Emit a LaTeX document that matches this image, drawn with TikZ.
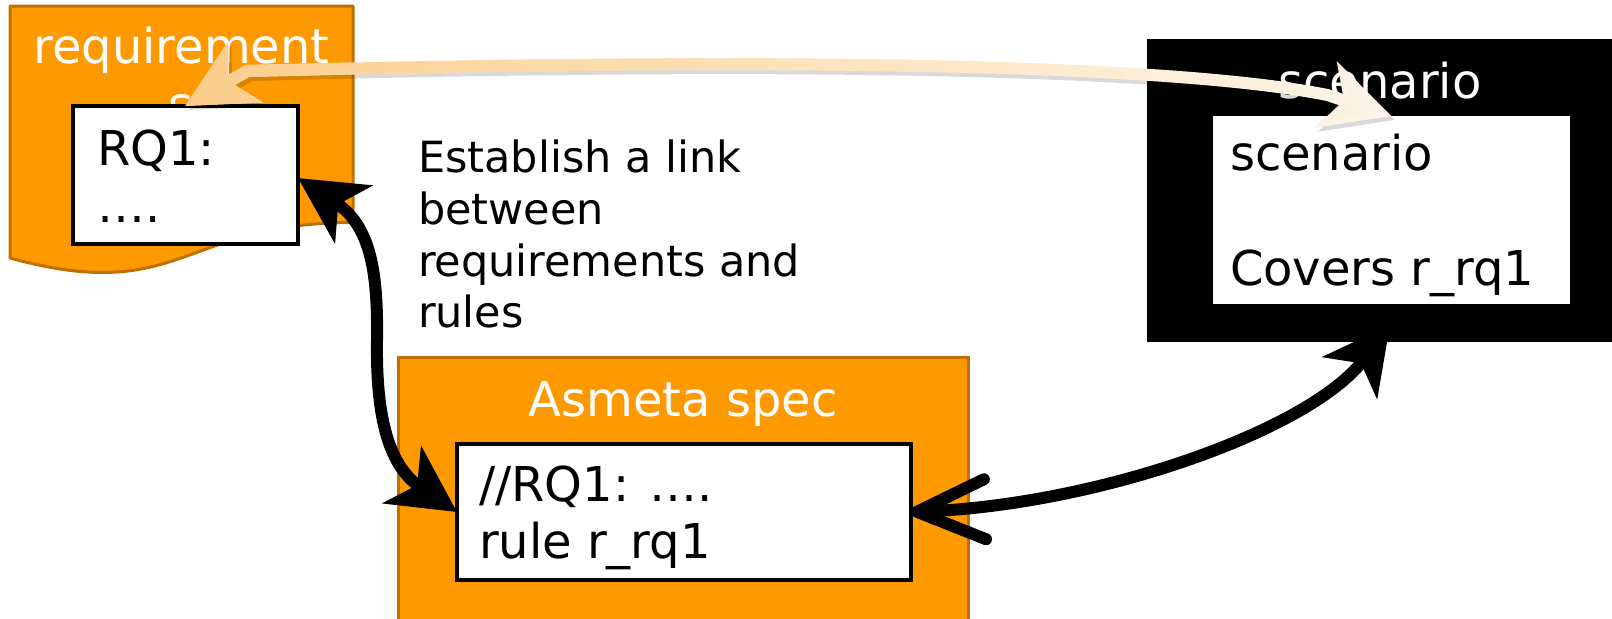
\documentclass[tikz,border=0pt]{standalone}
\usepackage{fontspec}
\setmainfont{DejaVu Sans}
\usetikzlibrary{arrows.meta,fadings,calc}
\definecolor{orfill}{RGB}{255,153,0}
\definecolor{orline}{RGB}{192,112,0}
\definecolor{peachL}{RGB}{252,206,140}
\definecolor{peachR}{RGB}{254,246,234}
\tikzfading[name=litefade, left color=transparent!0, middle color=transparent!25, right color=transparent!100]
\begin{document}
\begin{tikzpicture}[x=0.5pt,y=-0.5pt,
  every node/.style={inner sep=0pt,outer sep=0pt},
  bigtxt/.style={font=\fontsize{24}{28}\selectfont},
  midtxt/.style={font=\fontsize{21.5}{26}\selectfont},
  whitebox/.style={draw=black,fill=white,line width=2pt,rectangle},
  orangebox/.style={draw=orline,fill=orfill,line width=1.5pt,rectangle},
  blackbox/.style={fill=black,rectangle},
  innerbox/.style={fill=white,rectangle},
  blk/.style={draw=black,line width=6pt,
    preaction={draw=black,opacity=0.18,transform canvas={shift={(1.5pt,-2pt)}}}},
  lite/.style={line width=6pt,line join=round},
  bighead/.tip={Stealth[length=33pt,width=34pt,inset=9pt]},
  barbhead/.tip={Straight Barb[length=34pt,width=30pt,round]},
  litehead/.tip={Stealth[length=34pt,width=34pt,inset=9pt]},
]
\useasboundingbox (0,0) rectangle (1612,618);

% requirements document shape
\draw[draw=orline,fill=orfill,line width=1.5pt,line join=round]
  (10,6) -- (353,6) -- (353,222.5) .. controls (181.5,222.5) and (181.5,305) .. (10,258) -- cycle;
\node[bigtxt,text=white,anchor=base] (reqt1) at (181.5,63) {requirement};
\node[bigtxt,text=white,anchor=base] (reqt2) at (181.5,121) {s};
\node[whitebox,minimum width=112.5pt,minimum height=69pt] (rq) at (185.5,175) {};
\node[bigtxt,anchor=base west] (rqa) at (97,165) {RQ1:};
\node[bigtxt,anchor=base west] (rqb) at (97,222) {….};

% link text
\node[midtxt,anchor=base west] (lk1) at (418,172) {Establish a link};
\node[midtxt,anchor=base west] (lk2) at (418,224) {between};
\node[midtxt,anchor=base west] (lk3) at (418,276) {requirements and};
\node[midtxt,anchor=base west] (lk4) at (418,327) {rules};

% scenario
\node[blackbox,minimum width=239pt,minimum height=151.5pt] (scn) at (1386,190.5) {};
\node[bigtxt,text=white,anchor=base] (scnt) at (1380,98) {scenario};
\node[innerbox,minimum width=178.5pt,minimum height=94pt] (scnin) at (1391.5,210) {};
\node[bigtxt,anchor=base west] (sca) at (1230,170) {scenario};
\node[bigtxt,anchor=base west] (scb) at (1230,285) {Covers r\_rq1};

% Asmeta spec
\node[orangebox,minimum width=285pt,minimum height=141.5pt] (asm) at (683,498.5) {};
\node[bigtxt,text=white,anchor=base] (asmt) at (683,416) {Asmeta spec};
\node[whitebox,minimum width=227pt,minimum height=68pt] (asmin) at (684,512) {};
\node[bigtxt,anchor=base west] (asa) at (479,501) {//RQ1: ….};
\node[bigtxt,anchor=base west] (asb) at (479,558) {rule r\_rq1};

% arrow requirements <-> asmeta
\coordinate (amid) at ($(rq.east)+(79,165)$);
\draw[blk,bighead-bighead]
  ($(rq.east)+(0,3)$) .. controls ($(rq.east)+(72,50)$) and ($(amid)+(1,-70)$) .. (amid)
  .. controls ($(amid)+(-1,70)$) and ($(asmin.west)+(-71,-48)$) .. (asmin.west);

% arrow asmeta <-> scenario
\draw[blk,barbhead-bighead]
  (asmin.east) .. controls ($(asmin.east)+(188,-7)$) and ($(scn.south)+(-76,88)$) .. ($(scn.south)+(4,-17)$);

% light arrow requirements <-> scenario
\coordinate (lb) at ($(rq.north)+(62,-35)$);
\coordinate (rb) at ($(scnin.north)+(-64,-21)$);
\def\litepath{(rq.north) -- (lb) .. controls ($(rq.north)+(261.5,-40)$) and ($(scnin.north)+(-291.5,-66)$) .. (rb) -- (scnin.north)}
\draw[lite,draw=black,opacity=0.15,transform canvas={shift={(1.5pt,-2pt)}},litehead-litehead] \litepath;
\draw[lite,draw=peachR,litehead-litehead] \litepath;
\draw[lite,draw=peachL,path fading=litefade,litehead-litehead] \litepath;
\end{tikzpicture}
\end{document}
